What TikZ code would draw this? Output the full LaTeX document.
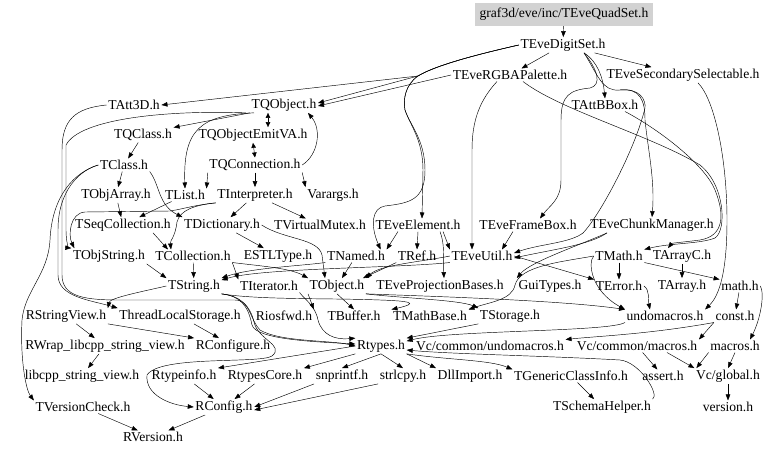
\documentclass[tikz,border=0pt]{standalone}
\usepackage{fontspec}
\setmainfont{Liberation Serif}
\usetikzlibrary{arrows.meta}
\begin{document}
\begin{tikzpicture}[x=1pt,y=-1pt,
  n/.style={inner sep=1.5pt, font=\fontsize{13.6}{15}\selectfont},
  e/.style={-{Triangle[length=6pt,width=4.5pt]}, line width=0.45pt},
  ee/.style={{Triangle[length=5pt,width=4.5pt]}-{Triangle[length=5pt,width=4.5pt]}, line width=0.45pt}]
\useasboundingbox (0,0) rectangle (768,452);
\fill[white] (0,0) rectangle (768,452);
% nodes
\node[n, fill=gray!35, minimum width=178pt, minimum height=23pt] (quad) at (564,14.5) {graf3d/eve/inc/TEveQuadSet.h};
\node[n] (digit) at (563,45) {TEveDigitSet.h};
\node[n] (rgba) at (510,75) {TEveRGBAPalette.h};
\node[n] (secsel) at (683,75) {TEveSecondarySelectable.h};
\node[n] (att3d) at (134,105) {TAtt3D.h};
\node[n] (tqobject) at (284,105) {TQObject.h};
\node[n] (attbbox) at (605,105) {TAttBBox.h};
\node[n] (tqclass) at (143,135) {TQClass.h};
\node[n] (emitva) at (253,135) {TQObjectEmitVA.h};
\node[n] (tclass) at (124,165) {TClass.h};
\node[n] (tqconn) at (255,165) {TQConnection.h};
\node[n] (tobjarray) at (116,195) {TObjArray.h};
\node[n] (tlist) at (185,195) {TList.h};
\node[n] (tinterp) at (255,195) {TInterpreter.h};
\node[n] (varargs) at (333,195) {Varargs.h};
\node[n] (tseqcoll) at (123,225) {TSeqCollection.h};
\node[n] (tdict) at (222,225) {TDictionary.h};
\node[n] (tvmutex) at (320,225) {TVirtualMutex.h};
\node[n] (tevelem) at (418,225) {TEveElement.h};
\node[n] (teveframe) at (528,225) {TEveFrameBox.h};
\node[n] (tevechunk) at (652,225) {TEveChunkManager.h};
\node[n] (tobjstring) at (109,256) {TObjString.h};
\node[n] (tcoll) at (193,256) {TCollection.h};
\node[n] (estl) at (278,256) {ESTLType.h};
\node[n] (tnamed) at (356,256) {TNamed.h};
\node[n] (tref) at (417,256) {TRef.h};
\node[n] (teveutil) at (482,256) {TEveUtil.h};
\node[n] (tmath) at (619,256) {TMath.h};
\node[n] (tarrayc) at (682,256) {TArrayC.h};
\node[n] (tstring) at (194,286) {TString.h};
\node[n] (titerator) at (269,286) {TIterator.h};
\node[n] (tobject) at (337,286) {TObject.h};
\node[n] (tevprojbases) at (440,286) {TEveProjectionBases.h};
\node[n] (guitypes) at (550,286) {GuiTypes.h};
\node[n] (terror) at (619,286) {TError.h};
\node[n] (tarray) at (682,286) {TArray.h};
\node[n] (math) at (740,286) {math.h};
\node[n] (rstringview) at (66,316) {RStringView.h};
\node[n] (tls) at (180,316) {ThreadLocalStorage.h};
\node[n] (riosfwd) at (284,316) {Riosfwd.h};
\node[n] (tbuffer) at (354,316) {TBuffer.h};
\node[n] (tmathbase) at (430,316) {TMathBase.h};
\node[n] (tstorage) at (510,316) {TStorage.h};
\node[n] (undomacros) at (665,316) {undomacros.h};
\node[n] (const) at (735,316) {const.h};
\node[n] (rwrap) at (105,346) {RWrap\_libcpp\_string\_view.h};
\node[n] (rconfigure) at (233,346) {RConfigure.h};
\node[n] (rtypes) at (381,346) {Rtypes.h};
\node[n] (vcundo) at (490,346) {Vc/common/undomacros.h};
\node[n] (vcmacros) at (637,346) {Vc/common/macros.h};
\node[n] (macros) at (735,346) {macros.h};
\node[n] (libcpp) at (82,376) {libcpp\_string\_view.h};
\node[n] (rtypeinfo) at (184,376) {Rtypeinfo.h};
\node[n] (rtypescore) at (265,376) {RtypesCore.h};
\node[n] (snprintf) at (342,376) {snprintf.h};
\node[n] (strlcpy) at (403,376) {strlcpy.h};
\node[n] (dllimport) at (470,376) {DllImport.h};
\node[n] (tgenci) at (571,376) {TGenericClassInfo.h};
\node[n] (assert) at (663,376) {assert.h};
\node[n] (vcglobal) at (728,376) {Vc/global.h};
\node[n] (tversioncheck) at (83,407) {TVersionCheck.h};
\node[n] (rconfig) at (224,407) {RConfig.h};
\node[n] (tschemahelper) at (602,407) {TSchemaHelper.h};
\node[n] (version) at (728,407) {version.h};
\node[n] (rversion) at (153,437) {RVersion.h};
% top edges
\draw[e] (quad) -- (digit);
\draw[e] (digit) -- (rgba);
\draw[e] (digit) -- (secsel);
\draw[e] (digit.west) .. controls (461,58) and (431,68) .. (418,76) -- (att3d.east);
\draw[e] (digit.west) .. controls (461,58) and (431,68) .. (418,76) -- ([yshift=2pt]tqobject.east);
\draw[e] (rgba.west) -- ([yshift=-1pt]tqobject.east);
\draw[e] (digit.west) .. controls (461,58) and (431,68) .. (418,76) .. controls (405,85) and (403,100) .. (405,110) .. controls (410,125) and (423,140) .. (423,170) -- ([xshift=4pt]tevelem.north);
\draw[e] (418,76) .. controls (405,85) and (403,100) .. (405,110) .. controls (410,125) and (425,140) .. (425,170) .. controls (425,200) and (410,203) .. (385,206) .. controls (372,208) and (370,225) .. ([xshift=-6pt]tnamed.north east);
\draw[e] ([xshift=21pt]digit.south) .. controls (598,62) and (603,78) .. (attbbox.north);
\draw[e] ([xshift=21pt]digit.south) .. controls (598,70) and (602,85) .. (590,88) .. controls (570,90) and (561,95) .. (561,120) -- (561,180) .. controls (561,200) and (550,205) .. ([xshift=12pt]teveframe.north);
\draw[e] ([xshift=21pt]digit.south) .. controls (598,75) and (602,92) .. (620,90) .. controls (640,88) and (645,100) .. (645,120) .. controls (648,150) and (655,180) .. (tevechunk.north);
\draw[e] (620,90) .. controls (640,88) and (646,100) .. (645,108) .. controls (635,150) and (600,215) .. (583,233) .. controls (570,243) and (540,244) .. ([yshift=3pt]teveutil.east);
\draw[e] ([xshift=-13pt]rgba.south) .. controls (480,100) and (472,120) .. (472,150) -- ([xshift=-10pt]teveutil.north);
\draw[e] ([xshift=13pt]rgba.south) .. controls (560,110) and (650,135) .. (700,165) .. controls (725,185) and (727,230) .. (715,238) .. controls (700,244) and (670,243) .. (tmath.north east);
\draw[e] ([xshift=20pt]attbbox.south) .. controls (660,130) and (705,165) .. (715,190) .. controls (725,215) and (724,236) .. (700,240) .. controls (685,242) and (672,243) .. ([xshift=-14pt]tarrayc.north);
\draw[e] ([xshift=15pt]secsel.south) .. controls (715,100) and (727,160) .. (727,220) .. controls (727,270) and (720,295) .. (undomacros.north east);
% TQObject cluster
\draw[e] (tqobject.south west) -- (tqclass.north east);
\draw[ee] ([xshift=-16pt]tqobject.south) -- ([xshift=15pt]emitva.north);
\draw[ee] (emitva.south) -- (tqconn.north);
\draw[e] (tqconn.east) .. controls (318,155) and (322,130) .. ([xshift=24pt]tqobject.south);
\draw[e] ([xshift=-30pt]tqobject.south) .. controls (200,115) and (183,130) .. (tlist.north);
\draw[e] ([xshift=-38pt]tqobject.south) .. controls (170,110) and (80,118) .. (66,145) -- (66,230) .. controls (66,245) and (70,248) .. (tobjstring.north west);
\draw[e] (tqclass) -- (tclass);
\draw[e] (tqconn.south west) -- (tlist.north east);
\draw[e] (tqconn) -- (tinterp);
\draw[e] (tqconn.south east) -- (varargs.north west);
\draw[e] (tclass) -- (tobjarray);
\draw[e] (tclass.south east) .. controls (160,185) and (158,205) .. (tdict.north west);
\draw[e] (tclass.west) .. controls (80,170) and (58,190) .. (58,230) -- (58,275) .. controls (58,297) and (90,300) .. (tls.north west);
\draw[e] (tclass.west) .. controls (75,172) and (52,195) .. (50,240) .. controls (48,275) and (25,290) .. (22,320) .. controls (20,360) and (26,390) .. (tversioncheck.north west);
\draw[e] (att3d.west) .. controls (75,108) and (62,120) .. (62,150) -- (62,275) .. controls (62,297) and (85,300) .. (120,300) -- (235,300) .. controls (250,300) and (250,320) .. (260,330) .. controls (280,342) and (330,340) .. (rtypes.west);
\draw[e] (tobjarray) -- (tseqcoll);
\draw[e] (tlist) -- (tseqcoll);
\draw[e] (tinterp) -- (tdict);
\draw[e] (tinterp) -- (tvmutex);
\draw[e] (tinterp.south west) .. controls (195,205) and (183,209) .. (170,211) -- (85,212) .. controls (70,213) and (68,235) .. ([xshift=3pt]tobjstring.north west);
\draw[e] (tinterp.south west) .. controls (195,205) and (180,210) .. (177,222) .. controls (175,238) and (170,240) .. ([xshift=-22pt]tcoll.north);
\draw[e] ([xshift=30pt]tseqcoll.south) -- ([xshift=-25pt]tcoll.north);
\draw[e] (tdict) -- (estl);
\draw[e] (tdict.east) .. controls (285,240) and (318,238) .. (322,255) -- ([xshift=-12pt]tobject.north);
% middle
\draw[e] (tevelem.south) -- (tref.north);
\draw[e] ([xshift=25pt]tevelem.south) -- (teveutil.north west);
\draw[e] ([xshift=22pt]tevelem.south) .. controls (445,245) and (443,255) .. ([xshift=4pt]tevprojbases.north);
\draw[e] ([xshift=-20pt]tevelem.south) -- (tnamed.north east);
\draw[e] ([xshift=-15pt]teveframe.south) -- ([xshift=20pt]teveutil.north);
\draw[e] ([xshift=-45pt]tevechunk.south) .. controls (580,245) and (530,262) .. (guitypes.north west);
\draw[e] ([xshift=-45pt]tevechunk.south) .. controls (590,245) and (550,250) .. ([yshift=-2pt]teveutil.east);
\draw[e] (teveutil.east) -- (terror.north west);
\draw[e] (teveutil.west) .. controls (420,262) and (380,265) .. (tobject.north east);
\draw[e] (teveutil.south west) .. controls (400,268) and (260,268) .. ([yshift=-2pt]tstring.north east);
\draw[e] (tnamed.south west) .. controls (300,266) and (250,268) .. (tstring.north east);
\draw[e] (tnamed) -- (tobject);
\draw[e] (tref.south west) -- ([xshift=-3pt]tobject.north east);
\draw[e] (tcoll) -- (tstring);
\draw[e] (tcoll.south east) -- (titerator.north west);
\draw[e] (tcoll.south east) .. controls (260,266) and (290,268) .. (tobject.north west);
\draw[e] (tobjstring.south east) -- (tstring.north west);
\draw[e] (tmath) -- (terror);
\draw[e] (tmath.south east) -- (math.north west);
\draw[e] (tarrayc) -- (tarray);
\draw[e] (tmath.west) .. controls (560,262) and (520,266) .. (515,285) .. controls (512,300) and (490,302) .. (tmathbase.north east);
\draw[e] (tmath.west) .. controls (588,262) and (590,290) .. (undomacros.north west);
\draw[e] (terror.east) .. controls (650,290) and (648,300) .. ([xshift=-15pt]undomacros.north);
% TString / TObject outgoing
\draw[e] (tstring.west) .. controls (140,292) and (110,298) .. (rstringview.north east);
\draw[e] (tstring.south east) .. controls (240,296) and (248,305) .. (252,325) .. controls (256,340) and (320,342) .. ([yshift=2pt]rtypes.west);
\draw[e] (tstring.south east) .. controls (240,296) and (250,305) .. (254,322) .. controls (258,340) and (285,345) .. (272,356) .. controls (260,364) and (160,355) .. (147,375) .. controls (145,395) and (170,405) .. (rconfig.west);
\draw[e] (tstring.south east) .. controls (260,300) and (330,298) .. (380,300) .. controls (410,301) and (420,303) .. (tmathbase.north west);
\draw[e] (titerator.south east) .. controls (305,300) and (315,305) .. (318,320) .. controls (322,335) and (335,340) .. (rtypes.north west);
\draw[e] (tobject.south west) -- (riosfwd.north east);
\draw[e] (tobject.south) -- (tbuffer.north);
\draw[e] (tobject.south east) .. controls (400,298) and (460,300) .. (tstorage.north west);
\draw[e] (tobject.south east) .. controls (420,296) and (560,300) .. (undomacros.north west);
\draw[e] (tstorage.south west) -- (rtypes.north east);
\draw[e] (undomacros.south west) .. controls (610,332) and (450,330) .. ([yshift=-3pt]rtypes.north east);
% right column
\draw[e] (math) -- (const);
\draw[e] (math.east) .. controls (765,295) and (760,320) .. ([xshift=15pt]macros.north);
\draw[e] (const.south west) -- (vcmacros.north east);
\draw[e] (const.south west) .. controls (650,334) and (600,336) .. (vcundo.north east);
\draw[e] (vcmacros) -- (assert);
\draw[e] ([xshift=30pt]vcmacros.south) -- (vcglobal.north west);
\draw[e] (macros.south west) -- ([xshift=2pt]vcglobal.north west);
\draw[e] (macros.south) -- (vcglobal.north);
\draw[e] (vcglobal) -- (version);
% Rtypes cluster
\draw[e] (rtypes.west) -- (rtypeinfo.north east);
\draw[e] (rtypes.south west) -- (rtypescore.north east);
\draw[e] (rtypes.south) -- (snprintf.north);
\draw[e] (rtypes.south) -- (strlcpy.north);
\draw[e] (rtypes.south east) -- (dllimport.north west);
\draw[e] (rtypes.south east) .. controls (450,360) and (490,360) .. (tgenci.north west);
\draw[e] (tgenci) -- (tschemahelper);
\draw[e] (tschemahelper.north east) .. controls (660,395) and (640,362) .. (620,360) .. controls (550,356) and (450,354) .. ([yshift=-4pt]rtypes.east);
\draw[e] (tls) -- (rconfigure);
\draw[e] (rstringview) -- (rwrap);
\draw[e] (rstringview.south east) -- (rconfigure.north west);
\draw[e] (rwrap) -- (libcpp);
\draw[e] (rtypeinfo) -- (rconfig);
\draw[e] (rtypescore) -- (rconfig);
\draw[e] (snprintf.south west) -- (rconfig.east);
\draw[e] (strlcpy.south west) -- ([yshift=-3pt]rconfig.east);
\draw[e] (rconfig) -- (rversion);
\draw[e] (tversioncheck) -- (rversion);
\end{tikzpicture}
\end{document}
